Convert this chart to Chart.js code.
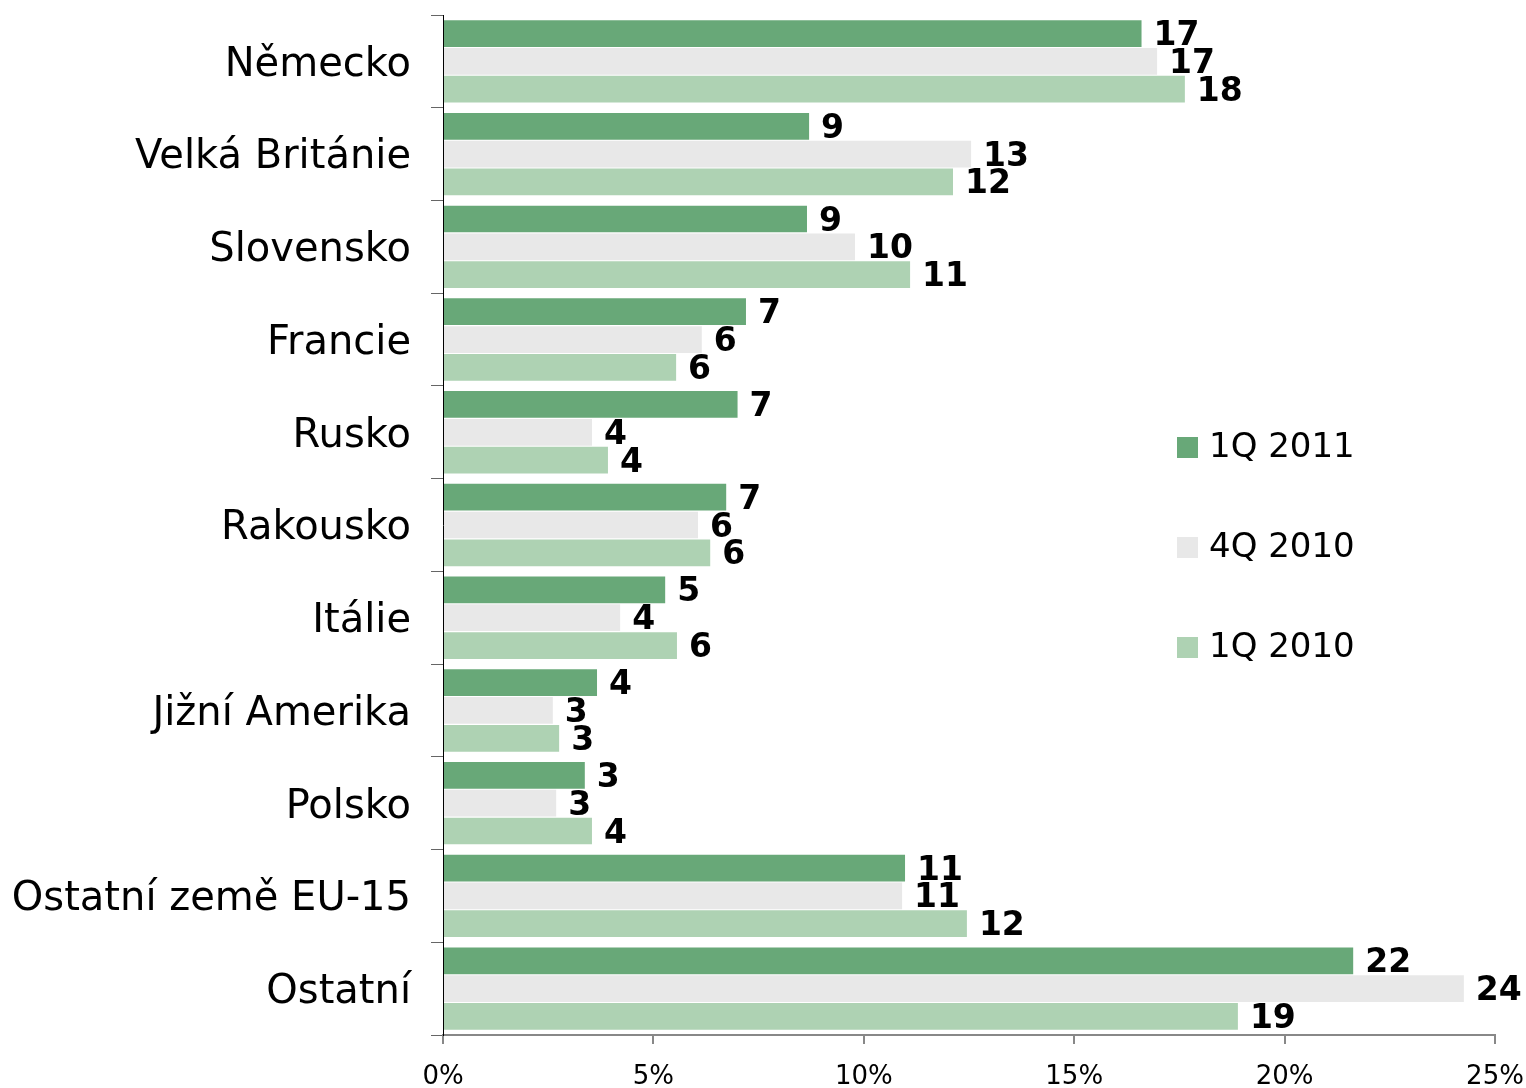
<!DOCTYPE html>
<html>
<head>
<meta charset="utf-8">
<script src="https://cdn.jsdelivr.net/npm/chart.js@4/dist/chart.umd.min.js"></script>
<style>
  html, body { margin: 0; padding: 0; background: #fff; }
  #wrap { width: 1526px; height: 1088px; position: relative; }
</style>
</head>
<body>
<div id="wrap"><canvas id="exportChart"></canvas></div>
<script>
const countries = ['Německo', 'Velká Británie', 'Slovensko', 'Francie', 'Rusko', 'Rakousko',
    'Itálie', 'Jižní Amerika', 'Polsko', 'Ostatní země EU-15', 'Ostatní']

const q1_2011 = [16.6, 8.7, 8.65, 7.2, 7.0, 6.73, 5.28, 3.66, 3.37, 10.98, 21.63]
const q4_2010 = [16.97, 12.55, 9.79, 6.15, 3.54, 6.06, 4.21, 2.61, 2.69, 10.91, 24.26]
const q1_2010 = [17.63, 12.12, 11.1, 5.54, 3.92, 6.35, 5.56, 2.76, 3.54, 12.45, 18.89]

const seriesNames = ['1Q 2011', '4Q 2010', '1Q 2010']
const seriesColors = ['#68a878', '#e8e8e8', '#aed2b3']
const xTicks = [0, 5, 10, 15, 20, 25]

const FONT = "'DejaVu Sans', Verdana, sans-serif"

// numbers at the end of each bar
const barLabels = {
    id: 'barLabels',
    afterDatasetsDraw(chart) {
        const ctx = chart.ctx
        ctx.save()
        ctx.font = `bold 33px ${FONT}`
        ctx.fillStyle = '#000'
        ctx.textBaseline = 'middle'
        ctx.textAlign = 'left'
        chart.data.datasets.forEach((ds, i) => {
            chart.getDatasetMeta(i).data.forEach((bar, j) => {
                ctx.fillText(String(Math.round(ds.data[j])), bar.x + 12, bar.y + 3)
            })
        })
        ctx.restore()
    }
}

// legend sitting inside the plot on the right
const sideLegend = {
    id: 'sideLegend',
    afterDraw(chart) {
        const ctx = chart.ctx
        ctx.save()
        ctx.font = `34px ${FONT}`
        ctx.textBaseline = 'middle'
        ctx.textAlign = 'left'
        chart.data.datasets.forEach((ds, i) => {
            const y = 447 + i * 100
            ctx.fillStyle = ds.backgroundColor
            ctx.fillRect(1177, y - 10, 21, 21)
            ctx.fillStyle = '#000'
            ctx.fillText(ds.label, 1209, y + 1)
        })
        ctx.restore()
    }
}

const datasets = [q1_2011, q4_2010, q1_2010].map((vals, i) => ({
    label: seriesNames[i],
    data: vals,
    backgroundColor: seriesColors[i],
    borderWidth: 0,
    barPercentage: 0.96,
    categoryPercentage: 0.9
}))

new Chart(document.getElementById('exportChart'), {
    type: 'bar',
    data: { labels: countries, datasets: datasets },
    plugins: [barLabels, sideLegend],
    options: {
        indexAxis: 'y',
        responsive: true,
        maintainAspectRatio: false,
        animation: false,
        layout: { padding: { top: 15, right: 31, left: 0, bottom: 0 } },
        plugins: {
            legend: { display: false },
            tooltip: { enabled: false }
        },
        scales: {
            x: {
                min: 0,
                max: 25,
                afterBuildTicks: (axis) => { axis.ticks = xTicks.map(v => ({ value: v })) },
                afterFit: (axis) => {
                    axis.height = 53
                    axis.paddingLeft = 0
                    axis.paddingRight = 0
                },
                border: { color: '#888', width: 2 },
                grid: { drawOnChartArea: false, tickLength: 9, color: '#888', lineWidth: 2 },
                ticks: {
                    callback: (v) => v + '%',
                    font: { family: FONT, size: 26 },
                    color: '#000',
                    padding: 18,
                    maxRotation: 0
                }
            },
            y: {
                afterFit: (axis) => {
                    axis.width = 443
                    axis.paddingTop = 0
                    axis.paddingBottom = 0
                },
                border: { color: '#000', width: 1 },
                grid: { drawOnChartArea: false, tickLength: 12, color: '#666', offset: true },
                ticks: {
                    font: { family: FONT, size: 40 },
                    color: '#000',
                    padding: 20,
                    labelOffset: 4
                }
            }
        }
    }
})
</script>
</body>
</html>
